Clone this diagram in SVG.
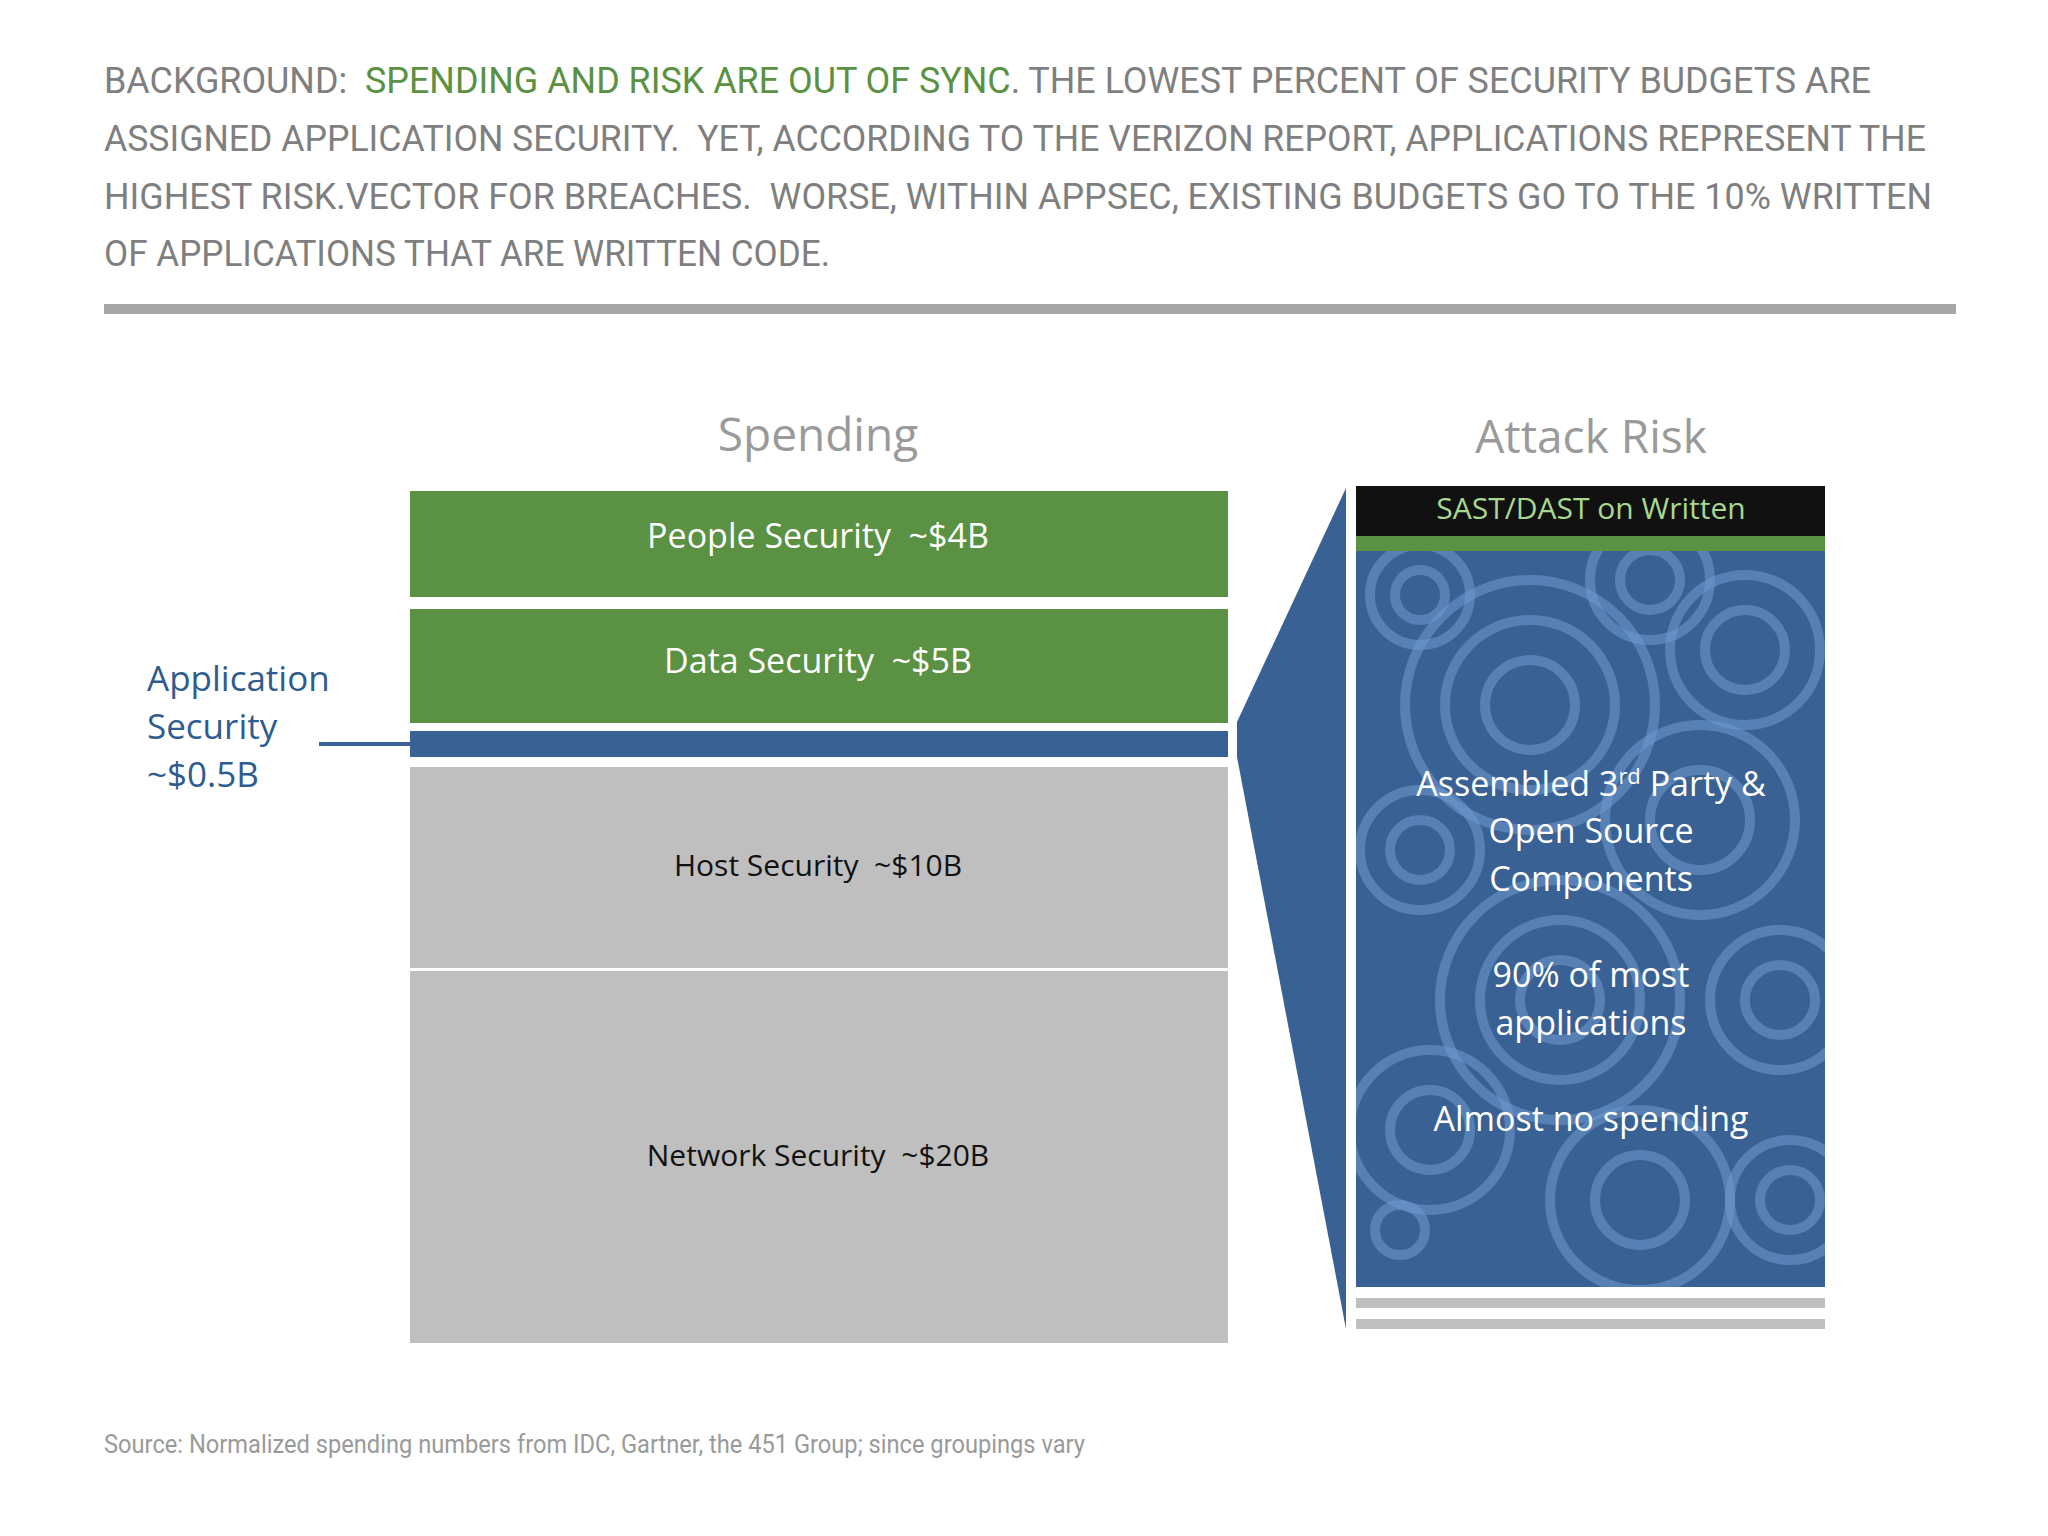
<svg xmlns="http://www.w3.org/2000/svg" width="2048" height="1536" viewBox="0 0 2048 1536">
<style>
text{white-space:pre}
.hd{font-family:Roboto,"Liberation Sans",sans-serif;font-size:37px;fill:#7f7f7f}
.b{font-family:"Open Sans","Noto Sans",sans-serif}
.w{fill:#fff;font-size:34px;text-anchor:middle}
.k{fill:#111;font-size:30px;text-anchor:middle}
.ttl{fill:#9a9a9a;font-size:46px;text-anchor:middle}
.c{fill:none;stroke:#6f9ad0;stroke-opacity:.55}
</style>
<defs>
<clipPath id="cp"><rect x="1356" y="551" width="469" height="736"/></clipPath>
</defs>
<rect width="2048" height="1536" fill="#fff"/>
<g id="header">
<text class="hd" x="104" y="93" textLength="1767" lengthAdjust="spacingAndGlyphs">BACKGROUND:  <tspan fill="#5a9142">SPENDING AND RISK ARE OUT OF SYNC</tspan>. THE LOWEST PERCENT OF SECURITY BUDGETS ARE</text>
<text class="hd" x="104" y="151" textLength="1822" lengthAdjust="spacingAndGlyphs">ASSIGNED APPLICATION SECURITY.  YET, ACCORDING TO THE VERIZON REPORT, APPLICATIONS REPRESENT THE</text>
<text class="hd" x="104" y="209" textLength="1828" lengthAdjust="spacingAndGlyphs">HIGHEST RISK.VECTOR FOR BREACHES.  WORSE, WITHIN APPSEC, EXISTING BUDGETS GO TO THE 10% WRITTEN</text>
<text class="hd" x="104" y="266" textLength="726" lengthAdjust="spacingAndGlyphs">OF APPLICATIONS THAT ARE WRITTEN CODE.</text>
<rect x="104" y="304" width="1852" height="10" fill="#a6a6a6"/>
</g>
<text class="b ttl" x="818" y="451">Spending</text>
<text class="b ttl" x="1591" y="453">Attack Risk</text>
<g id="people"><rect x="410" y="491" width="818" height="106" fill="#5a9142"/><text class="b w" x="818" y="548">People Security  ~$4B</text></g>
<g id="data"><rect x="410" y="609" width="818" height="114" fill="#5a9142"/><text class="b w" x="818" y="673">Data Security  ~$5B</text></g>
<g id="app"><rect x="410" y="731" width="818" height="26" fill="#3a6194"/></g>
<g id="host"><rect x="410" y="767" width="818" height="201" fill="#bfbfbf"/><text class="b k" x="818" y="876">Host Security  ~$10B</text></g>
<g id="network"><rect x="410" y="971" width="818" height="372" fill="#bfbfbf"/><text class="b k" x="818" y="1166">Network Security  ~$20B</text></g>
<g id="applabel" class="b" fill="#2f5c8f" font-size="35">
<text x="147" y="691">Application</text><text x="147" y="739">Security</text><text x="147" y="787">~$0.5B</text>
</g>
<g id="connectors">
<line x1="319" y1="744" x2="410" y2="744" stroke="#3a6194" stroke-width="4"/>
<polygon points="1237,722 1346,488 1346,1329 1237,757" fill="#3a6194"/>
</g>
<g id="risk">
<rect x="1356" y="486" width="469" height="50" fill="#111"/>
<rect x="1356" y="536" width="469" height="15" fill="#5a9142"/>
<rect x="1356" y="551" width="469" height="736" fill="#3a6194"/>
<g clip-path="url(#cp)" class="c">
<g stroke-width="10">
<circle cx="1420" cy="595" r="25"/><circle cx="1420" cy="595" r="50"/>
<circle cx="1530" cy="705" r="45"/><circle cx="1530" cy="705" r="85"/><circle cx="1530" cy="705" r="125"/>
<circle cx="1745" cy="650" r="40"/><circle cx="1745" cy="650" r="75"/>
<circle cx="1650" cy="580" r="30"/><circle cx="1650" cy="580" r="60"/>
<circle cx="1420" cy="850" r="30"/><circle cx="1420" cy="850" r="60"/>
<circle cx="1700" cy="820" r="50"/><circle cx="1700" cy="820" r="95"/>
<circle cx="1560" cy="1000" r="40"/><circle cx="1560" cy="1000" r="80"/><circle cx="1560" cy="1000" r="120"/>
<circle cx="1780" cy="1000" r="35"/><circle cx="1780" cy="1000" r="70"/>
<circle cx="1430" cy="1130" r="40"/><circle cx="1430" cy="1130" r="80"/>
<circle cx="1640" cy="1200" r="45"/><circle cx="1640" cy="1200" r="90"/>
<circle cx="1790" cy="1200" r="30"/><circle cx="1790" cy="1200" r="60"/>
<circle cx="1400" cy="1230" r="25"/>
</g>
</g>
<text class="b" x="1591" y="519" fill="#a8d890" font-size="30" text-anchor="middle">SAST/DAST on Written</text>
<g class="b w" font-size="35">
<text x="1591" y="796">Assembled 3<tspan font-size="22" dy="-12">rd</tspan><tspan dy="12"> Party &amp;</tspan></text>
<text x="1591" y="843">Open Source</text>
<text x="1591" y="891">Components</text>
<text x="1591" y="987">90% of most</text>
<text x="1591" y="1035">applications</text>
<text x="1591" y="1131">Almost no spending</text>
</g>
<rect x="1356" y="1298" width="469" height="10" fill="#bfbfbf"/>
<rect x="1356" y="1319" width="469" height="10" fill="#bfbfbf"/>
</g>
<text x="104" y="1453" font-family="Roboto,'Liberation Sans',sans-serif" font-size="26" fill="#9a9a9a" textLength="981" lengthAdjust="spacingAndGlyphs">Source: Normalized spending numbers from IDC, Gartner, the 451 Group; since groupings vary</text>
</svg>
